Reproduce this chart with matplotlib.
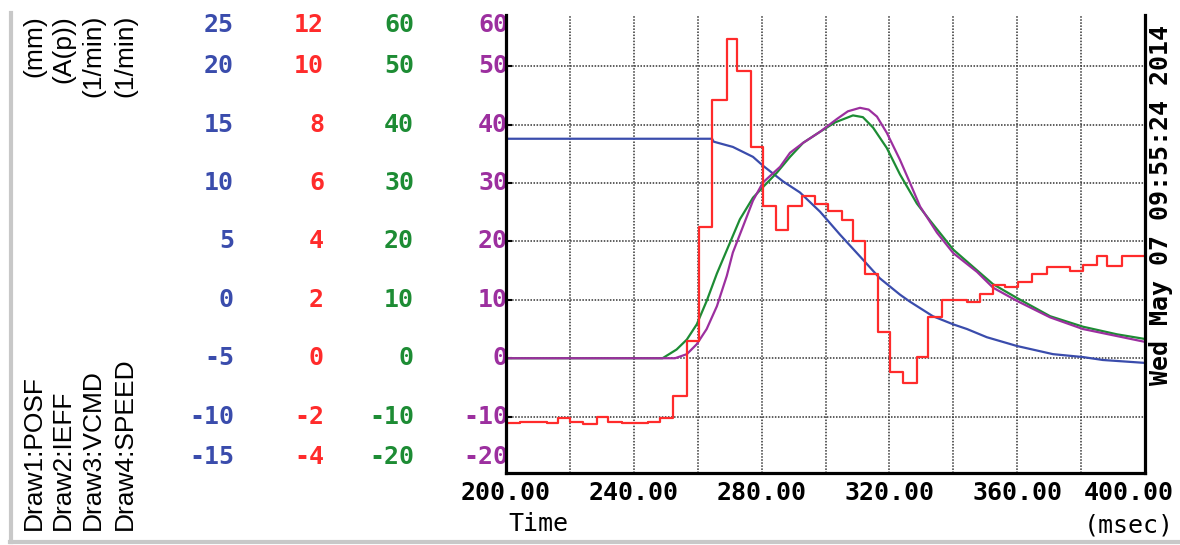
import numpy as np
import matplotlib
matplotlib.use("Agg")
import matplotlib.pyplot as plt
import matplotlib.transforms as mtransforms
from matplotlib.lines import Line2D

# Draw1: POSF (mm)
posf_t = [200, 264.5, 265, 271, 277.3, 280.4, 286.7, 292, 298.3, 304.5, 311.7, 317,
          323.3, 326.4, 333.6, 340, 344.3, 350.5, 359.9, 371.2, 380.6, 386.8, 400]
posf_mm = [13.8, 13.8, 13.55, 13.1, 12.25, 11.5, 10.15, 9.2, 7.55, 5.6, 3.45, 1.85,
           0.45, -0.15, -1.4, -2.1, -2.5, -3.2, -3.95, -4.65, -4.9, -5.15, -5.4]

# Draw2: IEFF (A(p)), stepwise
ieff_t = [200, 204.4, 212.7, 216.4, 220, 224.2, 228.4, 232, 236.2, 244.5, 248.2, 252.4,
          256.6, 260.4, 264.5, 269.1, 272.3, 276.7, 280.4, 284.5, 288.3, 292.6, 296.7,
          300.8, 305.2, 308.6, 312.4, 316.4, 320.2, 324.3, 328.6, 332.0, 336.5, 344.3,
          348.4, 352.4, 356.2, 360.3, 364.6, 369.3, 376.5, 380.6, 385.0, 388.0, 392.8, 400]
ieff_a = [-2.22, -2.18, -2.22, -2.05, -2.18, -2.27, -2.0, -2.18, -2.23, -2.18, -2.05, -1.29,
          0.59, 4.48, 8.85, 10.94, 9.85, 7.25, 5.2, 4.41, 5.2, 5.57, 5.3,
          5.03, 4.75, 4.0, 2.87, 0.89, -0.48, -0.85, 0.03, 1.4, 1.98, 1.94,
          2.19, 2.5, 2.43, 2.6, 2.87, 3.11, 2.98, 3.19, 3.49, 3.16, 3.49, 3.49]

# Draw3: VCMD (1/min)
vcmd_t = [200, 249, 253.4, 256.6, 259.7, 262.8, 266, 270.1, 273.2, 277.3, 280.4, 284.8,
          288.9, 293, 298.3, 303, 308.6, 311.7, 314.9, 319.2, 323.3, 328.6, 332.7, 340,
          348.4, 352.4, 360, 370.3, 380.6, 391.2, 400]
vcmd_rpm = [0, 0, 1.5, 3.2, 5.8, 9.8, 14.5, 19.8, 23.8, 27.5, 29.3, 31.8,
            34.5, 36.9, 38.8, 40.4, 41.6, 41.3, 39.5, 36.0, 31.5, 26.5, 23.6, 18.6,
            14.6, 12.7, 10.3, 7.2, 5.4, 4.1, 3.3]

# Draw4: SPEED (1/min)
speed_t = [200, 252.9, 256.6, 259.7, 262.8, 266, 269.1, 271, 274.2, 277.3, 280.4, 285.8,
           288.9, 293, 298.3, 303.6, 307, 310.8, 313.5, 316.1, 319.2, 323.3, 326.4, 329.6,
           334.9, 340, 347.4, 352.4, 360, 370.3, 380.6, 391.2, 400]
speed_rpm = [0, 0, 0.7, 2.4, 5.0, 8.9, 14.1, 18.1, 22.6, 27.0, 30.1, 32.8,
             35.2, 36.9, 38.8, 41.0, 42.3, 42.9, 42.6, 41.4, 38.6, 34.0, 30.1, 26.0,
             21.5, 18.0, 14.8, 12.1, 9.8, 7.0, 5.0, 3.8, 2.8]

# scale labels, one row per grid level (SPEED scale is the reference)
scale_levels = [60, 50, 40, 30, 20, 10, 0, -10, -20]
posf_labels = ["25", "20", "15", "10", "5", "0", "-5", "-10", "-15"]
ieff_labels = ["12", "10", "8", "6", "4", "2", "0", "-2", "-4"]
vcmd_labels = ["60", "50", "40", "30", "20", "10", "0", "-10", "-20"]
speed_labels = ["60", "50", "40", "30", "20", "10", "0", "-10", "-20"]
channel_names = ["Draw1:POSF", "Draw2:IEFF", "Draw3:VCMD", "Draw4:SPEED"]
channel_units = ["(mm)", "(A(p))", "(1/min)", "(1/min)"]
x_ticks = [200, 240, 280, 320, 360, 400]
stamp = "Wed May 07 09:55:24 2014"

BLUE = "#3a4cac"
RED = "#ff2b2b"
GREEN = "#1d8c34"
PURPLE = "#9c2f9f"
MONO = "DejaVu Sans Mono"
W, H = 1180, 545


def to_axis_posf(mm):
    return 2.0 * (np.asarray(mm) + 5.0)


def to_axis_ieff(a):
    return 5.0 * np.asarray(a)


fig = plt.figure(figsize=(W / 100, H / 100), dpi=100)
ax = fig.add_axes([506 / W, 1 - 473 / H, (1145 - 506) / W, (473 - 15) / H])

ax.plot(posf_t, to_axis_posf(posf_mm), color=BLUE, lw=1.6)
ax.plot(vcmd_t, vcmd_rpm, color=GREEN, lw=1.6)
ax.plot(speed_t, speed_rpm, color=PURPLE, lw=1.6)
ax.plot(ieff_t, to_axis_ieff(ieff_a), color=RED, lw=1.6, drawstyle="steps-post")

ax.set_xlim(200, 400)
ax.set_ylim(-19.66, 58.8)
ax.set_xticks(np.arange(200, 401, 20))
ax.set_yticks([-10, 0, 10, 20, 30, 40, 50])
ax.tick_params(axis="x", length=0, labelbottom=False)
ax.tick_params(axis="y", direction="in", length=4, width=1.5, labelleft=False)
ax.grid(True, ls=(0, (1, 1)), color="#333333", lw=1.1)
ax.spines["top"].set_visible(False)
for s in ["left", "right", "bottom"]:
    ax.spines[s].set_linewidth(2.3)
    ax.spines[s].set_color("black")

# colored scale columns
ylo, yhi = ax.get_ylim()
label_pos = np.clip(scale_levels, ylo + 2.76, yhi - 1.7)
ytrans = mtransforms.blended_transform_factory(fig.transFigure, ax.transData)
cols = [(posf_labels, BLUE, 234), (ieff_labels, RED, 324),
        (vcmd_labels, GREEN, 414), (speed_labels, PURPLE, 508)]
for labels, color, xr in cols:
    for lab, yp in zip(labels, label_pos):
        ax.text(xr / W, yp, lab, transform=ytrans, ha="right", va="center",
                color=color, fontsize=18, family=MONO, weight="bold",
                clip_on=False, zorder=2)

# x tick labels
xtrans = mtransforms.blended_transform_factory(ax.transData, fig.transFigure)
for xt in x_ticks:
    if xt == x_ticks[-1]:
        tr = xtrans + mtransforms.ScaledTranslation(29 / 100, 0, fig.dpi_scale_trans)
        ha = "right"
    else:
        tr = xtrans
        ha = "center"
    ax.text(xt, 1 - 493 / H, f"{xt:.2f}", transform=tr, ha=ha, va="center",
            fontsize=18, family=MONO, weight="bold", clip_on=False)

fig.text(508 / W, 1 - 524 / H, "Time", ha="left", va="center", fontsize=18, family=MONO)
fig.text(1174 / W, 1 - 525 / H, "(msec)", ha="right", va="center", fontsize=18, family=MONO)
fig.text(1161 / W, 1 - 205 / H, stamp, rotation=90, ha="center", va="center",
         fontsize=18, family=MONO, weight="bold")

# channel names / units on the left
col_x = [34, 63, 93, 125]
for cx, name, unit in zip(col_x, channel_names, channel_units):
    fig.text(cx / W, 1 - 530 / H, name, rotation=90, ha="center", va="bottom",
             fontsize=19, family="Liberation Sans")
    fig.text(cx / W, 1 - 15 / H, unit, rotation=90, ha="center", va="top",
             fontsize=19, family="Liberation Sans")

# light grey frame on the left and bottom
fig.add_artist(Line2D([11 / W, 11 / W], [1 - 542 / H, 1 - 13 / H], color="#c8c8c8",
                      lw=3, transform=fig.transFigure))
fig.add_artist(Line2D([10 / W, 1.0], [1 - 542 / H, 1 - 542 / H], color="#c8c8c8",
                      lw=3, transform=fig.transFigure))

fig.savefig("out.png", dpi=100)
